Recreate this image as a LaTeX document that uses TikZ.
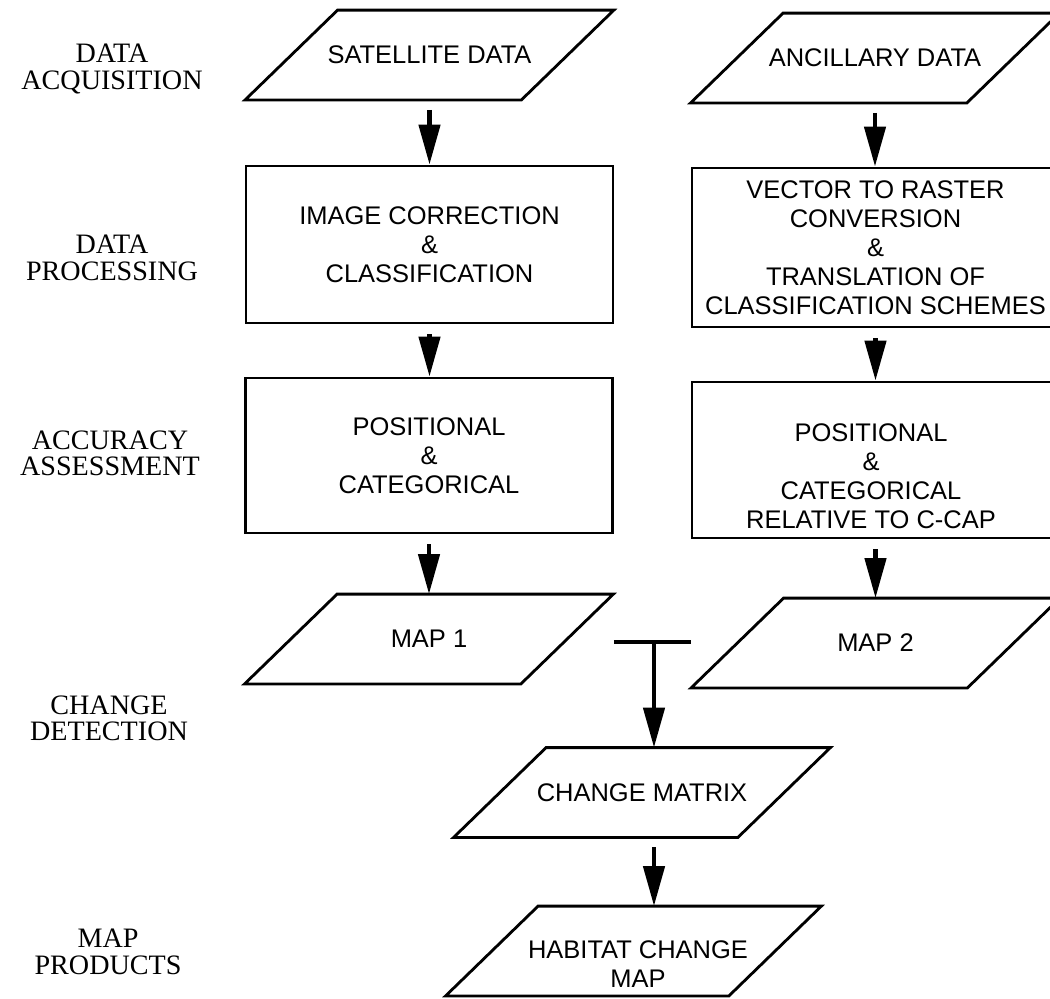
\documentclass[tikz,border=0pt]{standalone}
\usepackage{fontspec}
\setmainfont{Liberation Serif}
\setsansfont{Liberation Sans}
\usetikzlibrary{shapes.geometric, arrows.meta, positioning}

\begin{document}
\begin{tikzpicture}[>={Triangle[length=0.8cm, width=0.42cm]}, line width=1.6pt,
        stage/.style={align=center, font=\fontsize{16}{15}\selectfont},
        boxtext/.style={align=center, font=\sffamily\fontsize{14.5}{16.5}\selectfont},
        procbox/.style={boxtext, rectangle, draw, minimum width=7.34cm},
        datain/.style={boxtext, rectangle, minimum width=5.47cm, minimum height=1.74cm},
        flow/.style={->, line width=2.6pt, shorten <=0.2cm}]
        \clip (0,0) rectangle (21,-19.96);
        % stage labels
        \node [stage] (lblacq) at (2.24,-1.38) {DATA\\ACQUISITION};
        \node [stage] (lblproc) at (2.24,-5.16) {DATA\\PROCESSING};
        \node [stage] (lblacc) at (2.20,-9.06) {ACCURACY\\ASSESSMENT};
        \node [stage] (lblchg) at (2.18,-14.36) {CHANGE\\DETECTION};
        \node [stage] (lblprod) at (2.16,-19.04) {MAP\\PRODUCTS};
        % left column
        \node [datain] (sat) at (8.59,-1.10) {SATELLITE DATA};
        \node [procbox, minimum height=3.14cm] (imgcorr) at (8.59,-4.89) {IMAGE CORRECTION\\\&\\CLASSIFICATION};
        \node [procbox, minimum height=3.10cm] (accl) at (8.58,-9.11) {POSITIONAL\\\&\\CATEGORICAL};
        \node [datain] (map1) at (8.58,-12.78) {MAP 1};
        % right column
        \node [datain] (anc) at (17.50,-1.16) {ANCILLARY DATA};
        \node [procbox, minimum height=3.18cm] (vecras) at (17.51,-4.95) {VECTOR TO RASTER\\CONVERSION\\\&\\TRANSLATION OF\\CLASSIFICATION SCHEMES};
        \node [procbox, minimum height=3.12cm] (accr) at (17.51,-9.20) {};
        \node [boxtext] (accrtxt) at (17.42,-9.52) {POSITIONAL\\\&\\CATEGORICAL\\RELATIVE TO C-CAP};
        \node [datain] (map2) at (17.51,-12.86) {MAP 2};
        % change detection
        \coordinate (tjoin) at (13.08,-12.84);
        \node [datain, minimum width=5.63cm] (chmat) at (12.84,-15.85) {CHANGE MATRIX};
        \node [datain, minimum width=5.61cm] (habitat) at (12.67,-19.02) {};
        \node [boxtext] (habtxt) at (12.76,-19.28) {HABITAT CHANGE\\MAP};
        % slanted outlines of the data nodes
        \foreach \n in {sat, anc, map1, map2, chmat, habitat}
            \draw ([xshift=0.925cm]\n.north west) -- ([xshift=0.925cm]\n.north east)
                -- ([xshift=-0.925cm]\n.south east) -- ([xshift=-0.925cm]\n.south west) -- cycle;
        % connectors
        \draw [flow] (sat.south) -- (sat.south |- imgcorr.north);
        \draw [flow] (imgcorr.south) -- (imgcorr.south |- accl.north);
        \draw [flow] (accl.south) -- (accl.south |- map1.north);
        \draw [flow] (anc.south) -- (anc.south |- vecras.north);
        \draw [flow] (vecras.south) -- (vecras.south |- accr.north);
        \draw [flow] (accr.south) -- (accr.south |- map2.north);
        \draw [line width=2.6pt] (accl.east |- tjoin) -- (accr.west |- tjoin);
        \draw [flow, shorten <=0pt] (tjoin) -- (tjoin |- chmat.north);
        \draw [flow] (tjoin |- chmat.south) -- (tjoin |- habitat.north);
\end{tikzpicture}
\end{document}
